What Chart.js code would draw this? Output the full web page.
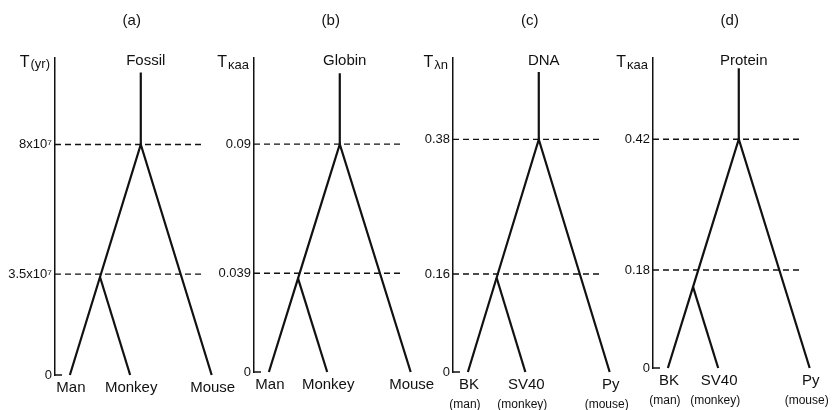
<!DOCTYPE html>
<html>
<head>
<meta charset="utf-8">
<script src="https://cdn.jsdelivr.net/npm/chart.js@4"></script>
<style>
  body { margin: 0; background: #fff; overflow: hidden; }
  #wrap { position: relative; width: 834px; height: 410px; }
  .panel { position: absolute; top: 0; width: 240px; height: 410px; }
</style>
</head>
<body>
<div id="wrap">
  <div class="panel" style="left:5px"><canvas id="c0" width="240" height="410"></canvas></div>
  <div class="panel" style="left:204px"><canvas id="c1" width="240" height="410"></canvas></div>
  <div class="panel" style="left:403px"><canvas id="c2" width="240" height="410"></canvas></div>
  <div class="panel" style="left:603px"><canvas id="c3" width="240" height="410"></canvas></div>
</div>
<script>
// DATA
const panelTitles = ['(a)', '(b)', '(c)', '(d)'];
const stemLabels = ['Fossil', 'Globin', 'DNA', 'Protein'];
const axisNames = [['T', '(yr)'], ['T', 'κaa'], ['T', 'λn'], ['T', 'κaa']];
const leafNames = [
  ['Man', 'Monkey', 'Mouse'],
  ['Man', 'Monkey', 'Mouse'],
  ['BK', 'SV40', 'Py'],
  ['BK', 'SV40', 'Py']
];
const leafHosts = [null, null, ['(man)', '(monkey)', '(mouse)'], ['(man)', '(monkey)', '(mouse)']];
// labelled divergence levels (dashed lines / ticks)
const rootValues = [8e7, 0.09, 0.38, 0.42];
const splitValues = [3.5e7, 0.039, 0.16, 0.18];
// where the inner split is actually drawn
const splitDrawn = [3.4e7, 0.037, 0.154, 0.149];
const stemTop = [10.5e7, 0.118, 0.49, 0.55];
const axisMax = [11e7, 0.124, 0.513, 0.569];
const tickText = [
  ['0', '3.5x10⁷', '8x10⁷'],
  ['0', '0.039', '0.09'],
  ['0', '0.16', '0.38'],
  ['0', '0.18', '0.42']
];

// layout
const zeroY = [375, 372, 372, 368];
const X_MIN = -1.21, X_MAX = 1.47, DASH_END = 0.86;
const INK = '#111';
const FONT = "'Liberation Sans', Arial, sans-serif";

function drawText(ctx, txt, x, y, size, align) {
  ctx.font = size + 'px ' + FONT;
  ctx.textAlign = align || 'center';
  ctx.textBaseline = 'middle';
  ctx.fillText(txt, x, y);
}

const labelPlugin = {
  id: 'treeLabels',
  afterDraw(chart) {
    const i = chart.options.plugins.treeLabels.panel;
    const ctx = chart.ctx;
    const xs = chart.scales.x, ys = chart.scales.y;
    const ax = chart.chartArea.left;
    const rootX = xs.getPixelForValue(0);
    ctx.save();
    ctx.fillStyle = INK;
    drawText(ctx, panelTitles[i], rootX - 9, 21, 15);
    drawText(ctx, stemLabels[i], rootX + 5, 61, 15);
    // axis name: big T plus smaller part
    ctx.font = '13px ' + FONT;
    const w2 = ctx.measureText(axisNames[i][1]).width;
    drawText(ctx, axisNames[i][1], ax - 5, i === 0 ? 64 : 65, 13, 'right');
    drawText(ctx, axisNames[i][0], ax - 6 - w2, 63, 16, 'right');
    // zero tick
    ctx.strokeStyle = INK;
    ctx.lineWidth = 1.5;
    const y0 = ys.getPixelForValue(0);
    ctx.beginPath();
    ctx.moveTo(ax, y0);
    ctx.lineTo(ax + 7, y0);
    ctx.stroke();
    // leaf labels
    const leaves = chart.options.plugins.treeLabels.leaves;
    leaves.forEach((lx, k) => {
      const px = xs.getPixelForValue(lx);
      drawText(ctx, leafNames[i][k], px + 1, y0 + 13, 15);
      if (leafHosts[i]) drawText(ctx, leafHosts[i][k], px - 3, y0 + 33, 12);
    });
    ctx.restore();
  }
};

for (let i = 0; i < 4; i++) {
  const r = rootValues[i];
  const s = splitDrawn[i];
  const ratio = s / r;
  // straight-branch layout: root at 0, outer leaves at -1 / +1
  const innerX = -(1 - ratio);
  const leafX = [-1, innerX + ratio, 1];

  const line = (pts, dash) => ({
    data: pts,
    showLine: true,
    borderColor: INK,
    borderWidth: dash ? 1.4 : 2.2,
    borderDash: dash ? [6, 4] : [],
    pointRadius: 0,
    tension: 0,
    clip: false
  });

  new Chart(document.getElementById('c' + i), {
    type: 'scatter',
    data: {
      datasets: [
        line([{ x: 0, y: stemTop[i] }, { x: 0, y: r }]),
        line([{ x: leafX[0], y: 0 }, { x: innerX, y: s }, { x: 0, y: r }, { x: leafX[2], y: 0 }]),
        line([{ x: innerX, y: s }, { x: leafX[1], y: 0 }]),
        line([{ x: X_MIN, y: r }, { x: DASH_END, y: r }], true),
        line([{ x: X_MIN, y: splitValues[i] }, { x: DASH_END, y: splitValues[i] }], true)
      ]
    },
    options: {
      responsive: false,
      animation: false,
      layout: { padding: { top: 58, bottom: 410 - zeroY[i], left: 0, right: 0 } },
      scales: {
        x: { type: 'linear', min: X_MIN, max: X_MAX, display: false },
        y: {
          min: 0,
          max: axisMax[i],
          afterFit: (sc) => { sc.width = 50; },
          afterBuildTicks: (sc) => {
            sc.ticks = [0, splitValues[i], r].map(v => ({ value: v }));
          },
          ticks: {
            callback: (v, idx) => tickText[i][idx],
            color: INK,
            padding: 3,
            font: { size: 13, family: FONT }
          },
          grid: { display: false, drawTicks: false },
          border: { display: true, color: INK, width: 1.5 }
        }
      },
      plugins: {
        legend: { display: false },
        tooltip: { enabled: false },
        treeLabels: { panel: i, leaves: leafX }
      }
    },
    plugins: [labelPlugin]
  });
}
</script>
</body>
</html>
